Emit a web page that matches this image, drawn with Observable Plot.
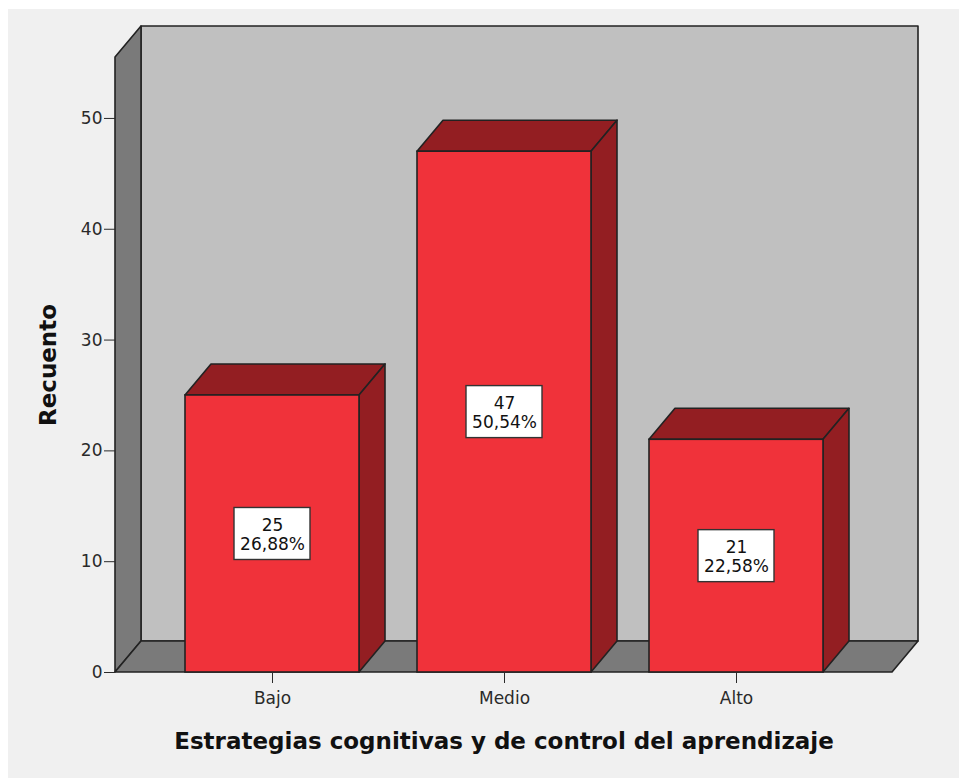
<!DOCTYPE html>
<html>
<head>
<meta charset="utf-8">
<script src="https://cdn.jsdelivr.net/npm/d3@7"></script>
<script src="https://cdn.jsdelivr.net/npm/@observablehq/plot@0.6"></script>
<style>
  html, body { margin: 0; padding: 0; background: #ffffff; }
  #wrap { position: relative; width: 959px; height: 778px; overflow: hidden; }
  #panel { position: absolute; left: 8px; top: 9px; width: 951px; height: 769px; background: #f0f0f0; }
  #chart { position: absolute; left: 0; top: 0; }
</style>
</head>
<body>
<div id="wrap"><div id="panel"></div><div id="chart"></div></div>
<script>
// ---- data ----
const categories = ["Bajo", "Medio", "Alto"];
const counts = [25, 47, 21];
const percents = ["26,88%", "50,54%", "22,58%"];
const yTicks = [0, 10, 20, 30, 40, 50];
const xTitle = "Estrategias cognitivas y de control del aprendizaje";
const yTitle = "Recuento";

const data = categories.map((c, i) => ({cat: c, count: counts[i], pct: percents[i]}));

// ---- style ----
const DX = 26, DY = -31;
const FRONT = "#f0323a", DARK = "#931e22", WALL = "#c0c0c0", SIDE = "#7a7a7a", EDGE = "#222222";
const FONT = "DejaVu Sans";

function bandwidthOf(x) {
  return typeof x.bandwidth === "function" ? x.bandwidth() : 0;
}

// walls + floor
const walls = (index, scales, values, dim) => {
  const g = d3.create("svg:g");
  const x0 = dim.marginLeft, x1 = dim.width - dim.marginRight;
  const y0 = scales.y(0), yt = dim.marginTop;
  const poly = (pts, fill) => g.append("polygon")
    .attr("points", pts.map(p => p.join(",")).join(" "))
    .attr("fill", fill).attr("stroke", EDGE).attr("stroke-width", 1.6).attr("stroke-linejoin", "round");
  poly([[x0 + DX, yt + DY], [x1 + DX, yt + DY], [x1 + DX, y0 + DY], [x0 + DX, y0 + DY]], WALL);
  poly([[x0, y0], [x0, yt], [x0 + DX, yt + DY], [x0 + DX, y0 + DY]], SIDE);
  poly([[x0, y0], [x0 + DX, y0 + DY], [x1 + DX, y0 + DY], [x1, y0]], SIDE);
  return g.node();
};

// bar top and right side faces
const barFaces = (index, scales, values, dim) => {
  const g = d3.create("svg:g");
  const bw = bandwidthOf(scales.x);
  const y0 = scales.y(0);
  for (const d of data) {
    const xl = scales.x(d.cat), xr = xl + bw, yv = scales.y(d.count);
    const poly = (pts, fill) => g.append("polygon")
      .attr("points", pts.map(p => p.join(",")).join(" "))
      .attr("fill", fill).attr("stroke", EDGE).attr("stroke-width", 1.6).attr("stroke-linejoin", "round");
    poly([[xl, yv], [xr, yv], [xr + DX, yv + DY], [xl + DX, yv + DY]], DARK);
    poly([[xr, yv], [xr + DX, yv + DY], [xr + DX, y0 + DY], [xr, y0]], DARK);
  }
  return g.node();
};

// label boxes
const labelBoxes = (index, scales, values, dim) => {
  const g = d3.create("svg:g");
  const bw = bandwidthOf(scales.x);
  const w = 76, h = 52;
  for (const d of data) {
    const xc = scales.x(d.cat) + bw / 2, yc = scales.y(d.count / 2);
    g.append("rect").attr("x", xc - w / 2).attr("y", yc - h / 2).attr("width", w).attr("height", h)
      .attr("fill", "#ffffff").attr("stroke", "#333").attr("stroke-width", 1.4);
  }
  return g.node();
};

const plot = Plot.plot({
  width: 959,
  height: 778,
  marginLeft: 115,
  marginRight: 67,
  marginTop: 57,
  marginBottom: 106,
  style: {background: "transparent", fontFamily: FONT, fontSize: "17px", color: "#2a2a2a"},
  x: {type: "band", domain: categories, paddingInner: 0.252, paddingOuter: 0.297, axis: null},
  y: {domain: [0, 55.5], axis: null},
  marks: [
    walls,
    barFaces,
    Plot.barY(data, {x: "cat", y: "count", fill: FRONT, stroke: EDGE, strokeWidth: 1.6}),
    labelBoxes,
    Plot.text(data, {x: "cat", y: d => d.count / 2, text: d => `${d.count}\n${d.pct}`,
      fontFamily: FONT, fontSize: 17, lineHeight: 1.12, fill: "#111"}),
    Plot.axisY({ticks: yTicks, tickSize: 11, tickPadding: 2, label: null, fontSize: 17, fontFamily: FONT, color: "#2a2a2a"}),
    Plot.axisX({tickSize: 11, tickPadding: 8, label: null, fontSize: 17, fontFamily: FONT, color: "#2a2a2a"}),
    Plot.text([yTitle], {frameAnchor: "left", textAnchor: "middle", dx: -67, rotate: -90, fontFamily: FONT, fontWeight: "bold", fontSize: 23, fill: "#111"}),
    Plot.text([xTitle], {frameAnchor: "bottom", dy: 76, fontFamily: FONT, fontWeight: "bold", fontSize: 23, fill: "#111"})
  ]
});
document.getElementById("chart").appendChild(plot);
</script>
</body>
</html>
